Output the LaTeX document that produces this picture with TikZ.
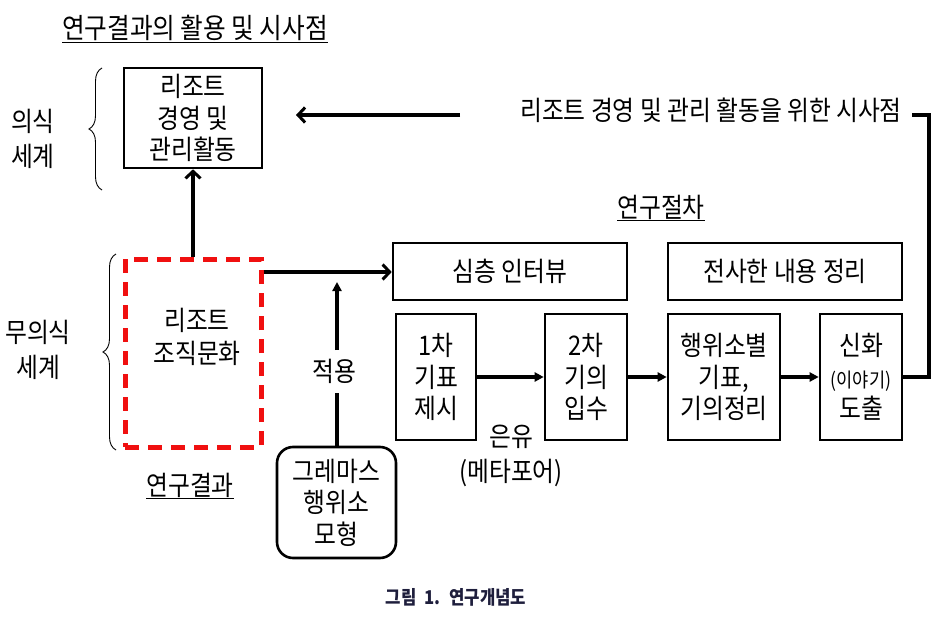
\documentclass[tikz,border=0pt]{standalone}
\usepackage{fontspec}
\setmainfont{Noto Sans CJK KR}[FakeStretch=0.88]
\usetikzlibrary{arrows.meta,decorations.pathreplacing,positioning,calc}
\definecolor{capcol}{HTML}{1E1E3C}
\definecolor{redbox}{HTML}{F01010}
\tikzset{
  boxstyle/.style={draw=black, line width=2.6pt, align=center, inner sep=0pt,
     font=\fontsize{27}{31.5}\selectfont},
  lbl/.style={align=center, inner sep=0pt, font=\fontsize{27}{35}\selectfont},
  barb/.style={line width=3.2pt, -{Straight Barb[length=7pt,width=15pt,line width=3pt]}},
  tri/.style={line width=3.2pt, -{Triangle[length=9pt,width=9pt]}},
  bracestyle/.style={decorate, line width=0.9pt, decoration={brace, amplitude=13pt, raise=0pt}},
}
\begin{document}
\begin{tikzpicture}[x=1pt,y=-1pt]
\useasboundingbox (0,0) rectangle (950,618);
% titles
\node[lbl, font=\fontsize{28}{30}\selectfont] (title) at (195,29) {\underline{연구결과의 활용 및 시사점}};
\node[lbl] (proc) at (661,208) {\underline{연구절차}};
\node[lbl] (res) at (190,486) {\underline{연구결과}};
% left labels
\node[lbl] (conscious) at (33,139) {의식\\세계};
\node[lbl] (unconscious) at (38,350) {무의식\\세계};
\draw[bracestyle] (102,190) -- (102,68);
\draw[bracestyle] (116,450) -- (116,254);
% boxes
\node[boxstyle, minimum width=138pt, minimum height=100pt] (top) at (193,118) {리조트\\경영 및\\관리활동};
\node[draw=redbox, line width=5pt, dash pattern=on 14pt off 9pt, minimum width=136pt, minimum height=188pt, inner sep=0pt] (red) at (193,353) {};
\node[lbl, font=\fontsize{27}{33}\selectfont] (redtxt) at (197,337) {리조트\\조직문화};
\node[boxstyle, minimum width=234pt, minimum height=57pt] (intv) at (510,271.5) {심층 인터뷰};
\node[boxstyle, minimum width=234pt, minimum height=57pt] (trans) at (785,271.5) {전사한 내용 정리};
\node[boxstyle, minimum width=80pt, minimum height=126pt] (b1) at (436,377) {1차\\기표\\제시};
\node[boxstyle, minimum width=82pt, minimum height=126pt] (b2) at (586,377) {2차\\기의\\입수};
\node[boxstyle, minimum width=112pt, minimum height=126pt] (b3) at (724,377) {행위소별\\기표,\\기의정리};
\node[boxstyle, minimum width=82pt, minimum height=126pt] (b4) at (861,377) {신화\\{\fontsize{20}{31.5}\selectfont (이야기)}\\도출};
\node[boxstyle, rounded corners=16pt, minimum width=119pt, minimum height=111pt] (grem) at (336.5,502.5) {그레마스\\행위소\\모형};
% other labels
\node[lbl] (impl) at (711,110) {리조트 경영 및 관리 활동을 위한 시사점};
\node[lbl] (apply) at (334,371) {적용};
\node[lbl] (meta) at (511,456) {은유\\(메타포어)};
\node[font=\fontsize{19}{20}\selectfont\bfseries, text=capcol, inner sep=0pt] (cap) at (456,597) {그림 \ 1. \ 연구개념도};
% connectors
\coordinate (arrA) at (460,115);
\coordinate (arrB) at (296,115);
\draw[barb] (arrA) -- (arrB);
\draw[barb] (red.north) -- (top.south);
\draw[barb] (red.east |- 0,272) -- (intv.west |- 0,272);
\draw[line width=3.2pt] (grem.north -| 337,0) -- (337,393);
\draw[tri] (337,350) -- (337,282);
\draw[tri] (b1.east) -- (b2.west);
\draw[tri] (b2.east) -- (b3.west);
\draw[tri] (b3.east) -- (b4.west);
\coordinate (rc) at (912,115);
\draw[line width=3.8pt] (b4.east) -- (929,377) |- (rc);
\end{tikzpicture}
\end{document}
